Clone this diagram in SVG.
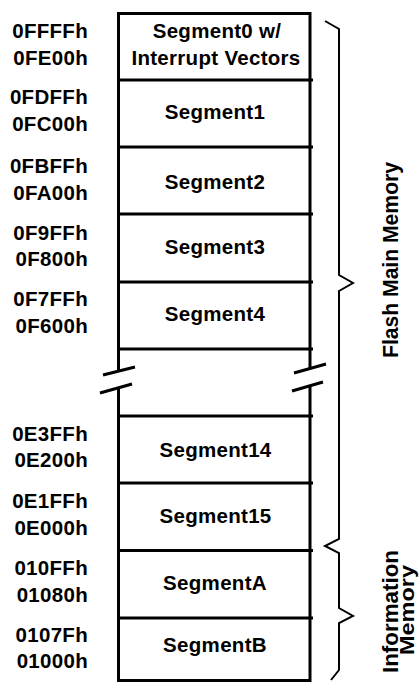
<svg xmlns="http://www.w3.org/2000/svg" width="419" height="682" viewBox="0 0 419 682">
<style>
.t{font-family:"Liberation Sans",Arial,sans-serif;font-weight:bold;font-size:20.5px;letter-spacing:0.3px;fill:#000}
.seg{text-anchor:middle}
.addr{text-anchor:end}
.v{letter-spacing:0}
.box{stroke:#000;stroke-width:3;fill:none}
.br{stroke:#000;stroke-width:2;fill:none}
</style>
<rect width="419" height="682" fill="#fff"/>
<g id="outline">
<path class="box" d="M118.5,12 V371 M118.5,388 V682 M310,12 V368 M310,386 V682 M117,13.5 H311.5 M118,680.5 H311.5"/>
<path class="box" d="M103,375 L135,367 M100,393 L132,384 M294,373 L326,364 M292,391 L323,382"/>
</g>
<g id="seg0"><path class="box" d="M118,80 H313"/><text class="t seg" x="217" y="38">Segment0 w/</text><text class="t seg" x="216" y="65">Interrupt Vectors</text><text class="t addr" x="88" y="37.5">0FFFFh</text><text class="t addr" x="88" y="65">0FE00h</text></g>
<g id="seg1"><path class="box" d="M118,147 H313"/><text class="t seg" x="215" y="119">Segment1</text><text class="t addr" x="88" y="104">0FDFFh</text><text class="t addr" x="88" y="130.5">0FC00h</text></g>
<g id="seg2"><path class="box" d="M118,214 H313"/><text class="t seg" x="215" y="189">Segment2</text><text class="t addr" x="88" y="172.5">0FBFFh</text><text class="t addr" x="88" y="200">0FA00h</text></g>
<g id="seg3"><path class="box" d="M118,282 H313"/><text class="t seg" x="215" y="254">Segment3</text><text class="t addr" x="88" y="240">0F9FFh</text><text class="t addr" x="88" y="266">0F800h</text></g>
<g id="seg4"><path class="box" d="M118,349 H313"/><text class="t seg" x="215" y="321">Segment4</text><text class="t addr" x="88" y="306">0F7FFh</text><text class="t addr" x="88" y="332.5">0F600h</text></g>
<g id="seg14"><path class="box" d="M118,416 H313"/><text class="t seg" x="215.5" y="456.5">Segment14</text><text class="t addr" x="88" y="441">0E3FFh</text><text class="t addr" x="88" y="467">0E200h</text></g>
<g id="seg15"><path class="box" d="M118,483 H313"/><text class="t seg" x="215.5" y="523">Segment15</text><text class="t addr" x="88" y="508">0E1FFh</text><text class="t addr" x="88" y="534.5">0E000h</text></g>
<g id="segA"><path class="box" d="M118,550.5 H313"/><text class="t seg" x="215" y="590">SegmentA</text><text class="t addr" x="88" y="575">010FFh</text><text class="t addr" x="88" y="601.5">01080h</text></g>
<g id="segB"><path class="box" d="M118,618 H313"/><text class="t seg" x="215" y="651.5">SegmentB</text><text class="t addr" x="88" y="641.5">0107Fh</text><text class="t addr" x="88" y="668">01000h</text></g>
<g id="braces">
<path class="br" d="M325,21 L339,29 L339,275 L353,283 L339,291 L339,539 L325,546 L339,553 L339,608 L353,616 L339,623 L339,670 L331,680"/>
</g>
<g id="labels">
<text class="t v" style="font-size:22px" transform="translate(398,358) rotate(-90)" textLength="196" lengthAdjust="spacingAndGlyphs">Flash Main Memory</text>
<text class="t v" style="font-size:22px" transform="translate(397.5,673) rotate(-90)" textLength="123" lengthAdjust="spacingAndGlyphs">Information</text>
<text class="t v" style="font-size:20px" transform="translate(413.5,655) rotate(-90)" textLength="90" lengthAdjust="spacingAndGlyphs">Memory</text>
</g>
</svg>
